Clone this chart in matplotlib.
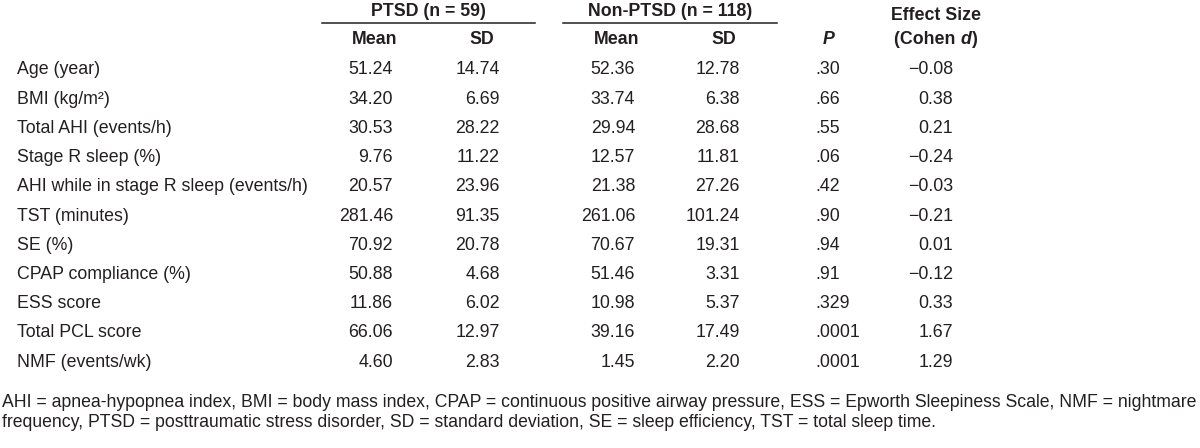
import matplotlib
matplotlib.use("Agg")
import matplotlib.pyplot as plt
from matplotlib.lines import Line2D

plt.rcParams['font.family'] = ['Liberation Sans Narrow', 'Liberation Sans', 'DejaVu Sans']

W, H = 1200, 448
INK = "#231f20"
FS = 12.8

labels = ["Age (year)", "BMI (kg/m\u00b2)", "Total AHI (events/h)", "Stage R sleep (%)",
          "AHI while in stage R sleep (events/h)", "TST (minutes)", "SE (%)",
          "CPAP compliance (%)", "ESS score", "Total PCL score", "NMF (events/wk)"]
ptsd_mean = ["51.24", "34.20", "30.53", "9.76", "20.57", "281.46", "70.92", "50.88", "11.86", "66.06", "4.60"]
ptsd_sd = ["14.74", "6.69", "28.22", "11.22", "23.96", "91.35", "20.78", "4.68", "6.02", "12.97", "2.83"]
non_mean = ["52.36", "33.74", "29.94", "12.57", "21.38", "261.06", "70.67", "51.46", "10.98", "39.16", "1.45"]
non_sd = ["12.78", "6.38", "28.68", "11.81", "27.26", "101.24", "19.31", "3.31", "5.37", "17.49", "2.20"]
p_vals = [".30", ".66", ".55", ".06", ".42", ".90", ".94", ".91", ".329", ".0001", ".0001"]
cohen_d = ["\u22120.08", "0.38", "0.21", "\u22120.24", "\u22120.03", "\u22120.21", "0.01", "\u22120.12", "0.33", "1.67", "1.29"]

footnote = ["AHI = apnea-hypopnea index, BMI = body mass index, CPAP = continuous positive airway pressure, "
            "ESS = Epworth Sleepiness Scale, NMF = nightmare",
            "frequency, PTSD = posttraumatic stress disorder, SD = standard deviation, SE = sleep efficiency, "
            "TST = total sleep time."]

fig = plt.figure(figsize=(W / 100, H / 100), dpi=100)


def fx(x):
    return x / W


def fy(y):
    return 1 - y / H


def put(x, y, s, ha="left", **kw):
    return fig.text(fx(x), fy(y), s, ha=ha, va="center", color=INK, fontsize=kw.pop("fontsize", FS), **kw)


# group headers and their rules
put(428, 11, "PTSD (n = 59)", ha="center", fontweight="bold")
put(670, 11, "Non-PTSD (n = 118)", ha="center", fontweight="bold")
for x0, x1 in [(322, 535), (563, 777)]:
    fig.add_artist(Line2D([fx(x0), fx(x1)], [fy(23), fy(23)], color=INK, lw=1.1))

# sub headers
for xc, s in [(375, "Mean"), (482, "SD"), (617, "Mean"), (724, "SD")]:
    put(xc, 39, s, ha="center", fontweight="bold")
put(829, 40, "P", ha="center", fontweight="bold", fontstyle="italic")
put(936, 15, "Effect Size", ha="center", fontweight="bold")

# "(Cohen d)" with italic d
fig.canvas.draw()
r = fig.canvas.get_renderer()
parts = [("(Cohen ", "normal"), ("d", "italic"), (")", "normal")]
tmp = [fig.text(0, 0, s, fontsize=FS, fontweight="bold", fontstyle=st) for s, st in parts]
widths = [t.get_window_extent(r).width for t in tmp]
for t in tmp:
    t.remove()
x = 936 - sum(widths) / 2
for (s, st), w in zip(parts, widths):
    put(x, 40, s, fontweight="bold", fontstyle=st)
    x += w

# body rows
y0, dy = 70, 29.2
for i, lab in enumerate(labels):
    y = y0 + i * dy
    put(17, y, lab)
    put(393, y, ptsd_mean[i], ha="right")
    put(500, y, ptsd_sd[i], ha="right")
    put(635, y, non_mean[i], ha="right")
    put(740, y, non_sd[i], ha="right")
    put(815, y, p_vals[i], ha="left")
    put(953, y, cohen_d[i], ha="right")

for j, line in enumerate(footnote):
    put(2, 402 + j * 20, line, fontsize=12.7)

fig.savefig("out.png", dpi=100)
